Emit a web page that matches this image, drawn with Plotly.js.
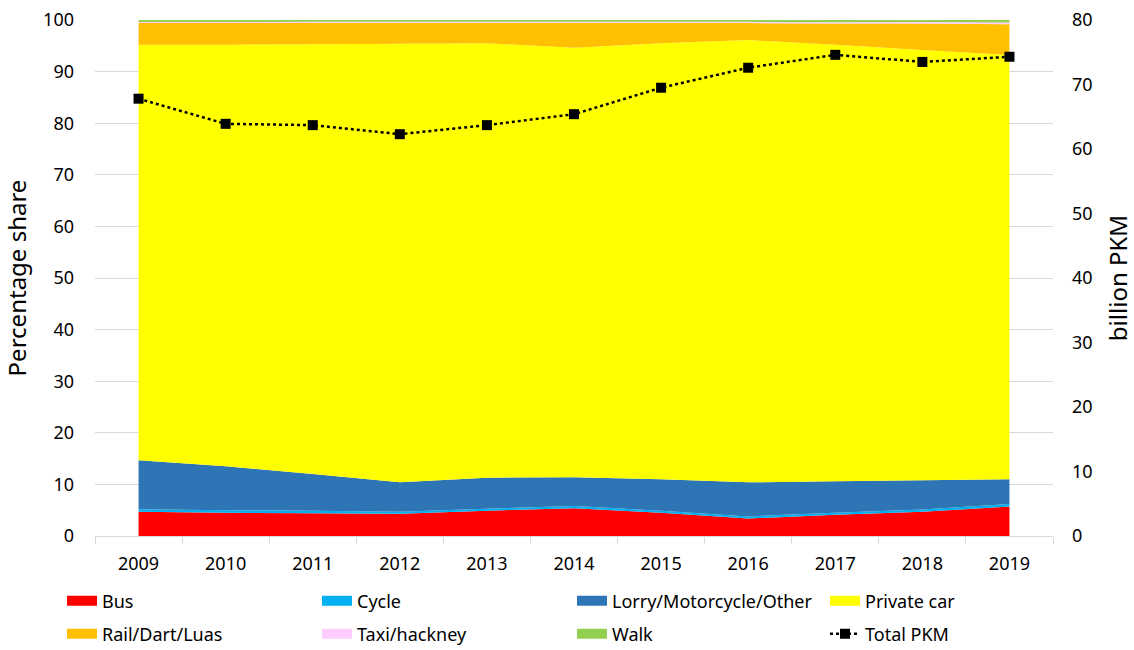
<!DOCTYPE html>
<html>
<head>
<meta charset="utf-8">
<script src="https://cdn.plot.ly/plotly-3.0.1.min.js"></script>
<style>
  html, body { margin: 0; padding: 0; background: #fff; }
  #chart { width: 1134px; height: 650px; }
</style>
</head>
<body>
<div id="chart"></div>
<script>
// years on the category axis
const years = [2009, 2010, 2011, 2012, 2013, 2014, 2015, 2016, 2017, 2018, 2019];

// percentage share of passenger km by mode
const bus     = [4.7, 4.5, 4.4, 4.3, 4.9, 5.4, 4.5, 3.4, 4.1, 4.7, 5.7];
const cycle   = [0.5, 0.5, 0.5, 0.4, 0.4, 0.4, 0.4, 0.4, 0.4, 0.45, 0.5];
const lorry   = [9.5, 8.5, 7.1, 5.7, 6.0, 5.6, 6.1, 6.6, 6.1, 5.65, 4.8];
const car     = [80.5, 81.7, 83.3, 85.0, 84.2, 83.2, 84.5, 85.7, 84.6, 83.4, 82.2];
const rail    = [4.2, 4.2, 4.1, 4.0, 3.9, 4.8, 3.9, 3.3, 4.1, 5.1, 6.0];
const taxi    = [0.2, 0.2, 0.25, 0.25, 0.25, 0.25, 0.25, 0.25, 0.25, 0.3, 0.3];
const walk    = [0.4, 0.4, 0.35, 0.35, 0.35, 0.35, 0.35, 0.35, 0.45, 0.5, 0.5];

// total passenger km, billions (right axis)
const totalPkm = [67.8, 63.9, 63.7, 62.3, 63.7, 65.4, 69.5, 72.6, 74.6, 73.5, 74.3];

const font = "Noto Sans, Open Sans, sans-serif";

const modes = [
    { name: 'Bus', values: bus, color: '#ff0000' },
    { name: 'Cycle', values: cycle, color: '#00b0f0' },
    { name: 'Lorry/Motorcycle/Other', values: lorry, color: '#2e75b6' },
    { name: 'Private car', values: car, color: '#ffff00' },
    { name: 'Rail/Dart/Luas', values: rail, color: '#ffc000' },
    { name: 'Taxi/hackney', values: taxi, color: '#ffccff' },
    { name: 'Walk', values: walk, color: '#92d050' }
];

// each legend entry gets its own one-item legend so the 4x2 grid lines up
const legendIds = ['legend', 'legend2', 'legend3', 'legend4',
                   'legend5', 'legend6', 'legend7', 'legend8'];
const colX = [62, 317, 572, 825];
const rowY = [601, 634];

const traces = [];

// stacked areas, kept out of the legend
modes.forEach(m => {
    traces.push({
        x: years,
        y: m.values,
        name: m.name,
        type: 'scatter',
        mode: 'none',
        stackgroup: 'share',
        fillcolor: m.color,
        line: { width: 0 },
        showlegend: false
    });
});

// legend swatches (empty traces, just for the boxes)
modes.forEach((m, i) => {
    traces.push({
        x: [null],
        y: [null],
        name: m.name,
        type: 'scatter',
        mode: 'lines',
        line: { color: m.color, width: 15 },
        legend: legendIds[i],
        hoverinfo: 'skip'
    });
});

traces.push({
    x: years,
    y: totalPkm,
    name: 'Total PKM',
    type: 'scatter',
    mode: 'lines+markers',
    yaxis: 'y2',
    legend: legendIds[7],
    line: { color: '#000000', width: 2.5, dash: 'dot' },
    marker: { color: '#000000', symbol: 'square', size: 10 }
});

const layout = {
    width: 1134,
    height: 650,
    margin: { l: 95, r: 81, t: 20, b: 114 },
    paper_bgcolor: '#ffffff',
    plot_bgcolor: '#ffffff',
    font: { family: font, size: 18, color: '#000000' },
    showlegend: true,
    xaxis: {
        range: [2008.5, 2019.5],
        tickmode: 'linear',
        tick0: 2009,
        dtick: 1,
        ticks: '',
        showgrid: false,
        zeroline: false,
        showline: true,
        linecolor: '#d9d9d9',
        linewidth: 1,
        ticklabelstandoff: 11,
        minor: {
            tickmode: 'linear',
            tick0: 2008.5,
            dtick: 1,
            ticks: 'outside',
            ticklen: 7,
            tickcolor: '#d9d9d9',
            showgrid: false
        }
    },
    yaxis: {
        range: [0, 100],
        tickmode: 'linear',
        tick0: 0,
        dtick: 10,
        showgrid: true,
        gridcolor: '#d9d9d9',
        zeroline: false,
        ticks: '',
        ticklabelstandoff: 20,
        title: { text: 'Percentage share', font: { size: 24 }, standoff: 10 }
    },
    yaxis2: {
        overlaying: 'y',
        side: 'right',
        range: [0, 80],
        tickmode: 'linear',
        tick0: 0,
        dtick: 10,
        showgrid: false,
        zeroline: false,
        ticks: '',
        ticklabelstandoff: 18,
        title: { text: 'billion PKM', font: { size: 24 }, standoff: 18 }
    }
};

legendIds.forEach((id, i) => {
    layout[id] = {
        orientation: 'h',
        xref: 'container',
        yref: 'container',
        x: colX[i % 4] / 1134,
        xanchor: 'left',
        y: 1 - rowY[Math.floor(i / 4)] / 650,
        yanchor: 'middle',
        itemwidth: 30,
        bgcolor: 'rgba(0,0,0,0)',
        font: { family: font, size: 18 }
    };
});

Plotly.newPlot('chart', traces, layout, { displayModeBar: false, staticPlot: true });
</script>
</body>
</html>
